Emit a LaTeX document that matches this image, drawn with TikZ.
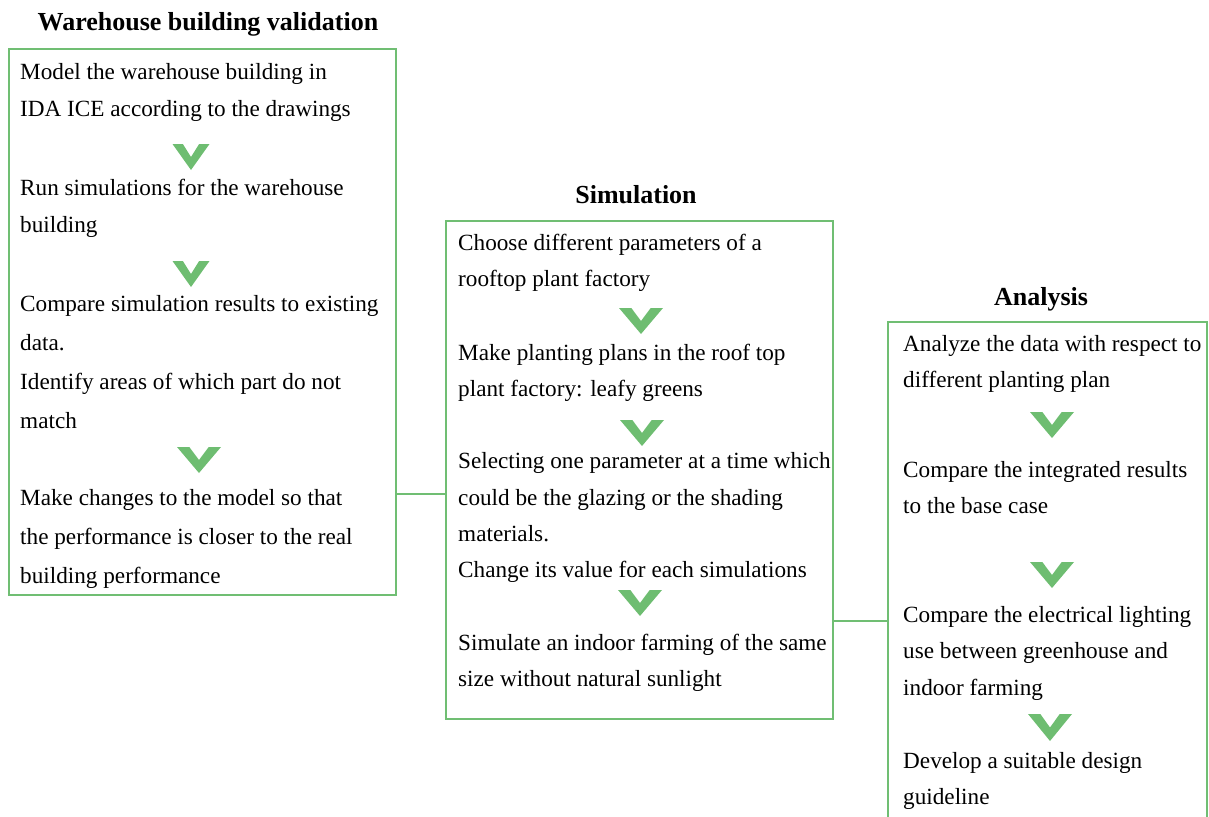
\documentclass[tikz,border=0pt]{standalone}
\usepackage{fontspec}
\setmainfont{Liberation Serif}
\definecolor{boxgreen}{RGB}{112,190,115}
\definecolor{chevgreen}{RGB}{110,189,113}
\tikzset{
  panel/.style={draw=boxgreen, line width=2pt, rectangle, inner sep=0pt},
  txt/.style={anchor=base west, inner sep=0pt, font=\fontsize{23.2}{28}\selectfont},
  ttl/.style={anchor=base, inner sep=0pt, font=\fontsize{26}{30}\selectfont\bfseries},
  link/.style={draw=boxgreen, line width=2pt},
  chevfill/.style={fill=chevgreen},
}
\newcommand{\chevron}[4]{% cx, top, width, height
  \fill[chevfill] ({#1-#3/2},#2) -- ({#1-#3/2+0.28*#3},#2) -- (#1,{#2+0.5*#4}) -- ({#1+#3/2-0.28*#3},#2) -- ({#1+#3/2},#2) -- (#1,{#2+#4}) -- cycle;}
\begin{document}
\begin{tikzpicture}[x=1pt,y=-1pt]
\useasboundingbox (0,0) rectangle (1209,816);
\clip (0,0) rectangle (1209,816);
% panels
\node[panel, minimum width=387pt, minimum height=546pt] (box1) at (202.5,322) {};
\node[panel, minimum width=387pt, minimum height=498pt] (box2) at (639.5,470) {};
\node[panel, minimum width=319pt, minimum height=520pt] (box3) at (1047.5,582) {};
% titles
\node[ttl] (t1) at (208,31) {Warehouse building validation};
\node[ttl] (t2) at (636,203) {Simulation};
\node[ttl] (t3) at (1041,305) {Analysis};
% box 1 text
\node[txt] (a1) at (20,79) {Model the warehouse building in};
\node[txt] (a2) at (20,116) {IDA ICE according to the drawings};
\chevron{191}{144}{37}{26}
\node[txt] (a3) at (20,195) {Run simulations for the warehouse};
\node[txt] (a4) at (20,232) {building};
\chevron{191}{261}{37}{26}
\node[txt] (a5) at (20,311) {Compare simulation results to existing};
\node[txt] (a6) at (20,350) {data.};
\node[txt] (a7) at (20,389) {Identify areas of which part do not};
\node[txt] (a8) at (20,428) {match};
\chevron{199}{447}{44}{26}
\node[txt] (a9) at (20,505) {Make changes to the model so that};
\node[txt] (a10) at (20,544) {the performance is closer to the real};
\node[txt] (a11) at (20,583) {building performance};
% box 2 text
\node[txt] (b1) at (458,250) {Choose different parameters of a};
\node[txt] (b2) at (458,286) {rooftop plant factory};
\chevron{641}{308}{44}{26}
\node[txt] (b3) at (458,360) {Make planting plans in the roof top};
\node[txt] (b4) at (458,396) {plant factory: leafy greens};
\chevron{642}{420}{44}{26}
\node[txt] (b5) at (458,468) {Selecting one parameter at a time which};
\node[txt] (b6) at (458,505) {could be the glazing or the shading};
\node[txt] (b7) at (458,541) {materials.};
\node[txt] (b8) at (458,577) {Change its value for each simulations};
\chevron{640}{590}{44}{26}
\node[txt] (b9) at (458,650) {Simulate an indoor farming of the same};
\node[txt] (b10) at (458,686) {size without natural sunlight};
% box 3 text
\node[txt] (c1) at (903,351) {Analyze the data with respect to};
\node[txt] (c2) at (903,387) {different planting plan};
\chevron{1052}{412}{44}{26}
\node[txt] (c3) at (903,477) {Compare the integrated results};
\node[txt] (c4) at (903,513) {to the base case};
\chevron{1052}{562}{44}{26}
\node[txt] (c5) at (903,622) {Compare the electrical lighting};
\node[txt] (c6) at (903,658) {use between greenhouse and};
\node[txt] (c7) at (903,695) {indoor farming};
\chevron{1050}{714}{44}{27}
\node[txt] (c8) at (903,768) {Develop a suitable design};
\node[txt] (c9) at (903,804) {guideline};
% connectors
\coordinate (j1) at (0,494);
\coordinate (j2) at (0,621);
\draw[link] (box1.east |- j1) -- (box2.west |- j1);
\draw[link] (box2.east |- j2) -- (box3.west |- j2);
\end{tikzpicture}
\end{document}
